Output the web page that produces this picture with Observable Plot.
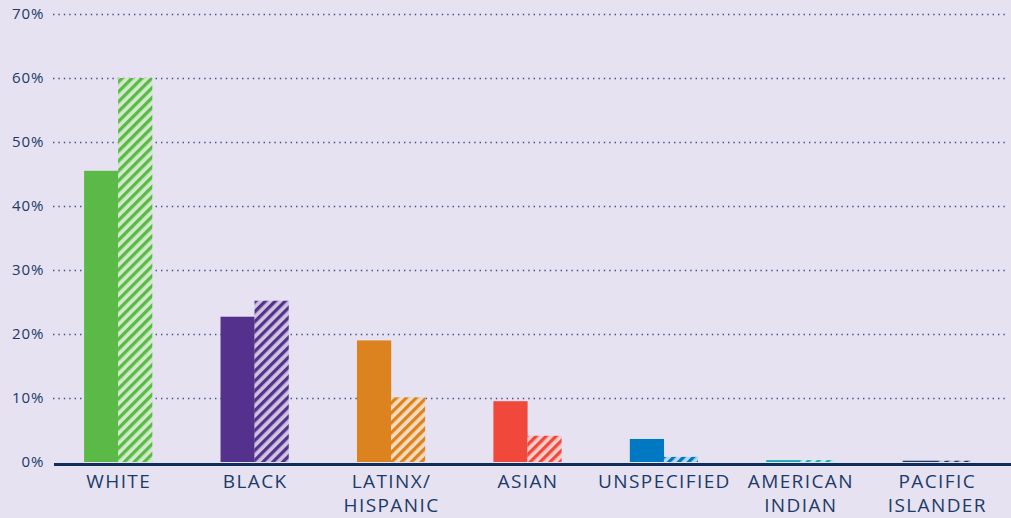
<!DOCTYPE html>
<html>
<head>
<meta charset="utf-8">
<script src="https://cdn.jsdelivr.net/npm/d3@7"></script>
<script src="https://cdn.jsdelivr.net/npm/@observablehq/plot@0.6"></script>
<style>
  html, body { margin: 0; padding: 0; background: #e6e2f1; }
  #chart svg { display: block; background: #e6e2f1; }
  #chart g[aria-label="y-axis tick label"] text { font-size: 15px; letter-spacing: 1px; }
  #chart g[aria-label="x-axis tick label"] text { font-size: 19px; letter-spacing: 1.4px; }
</style>
</head>
<body>
<div id="chart"></div>
<script>
// ---- data ----
const categories = ["WHITE", "BLACK", "LATINX/ HISPANIC", "ASIAN", "UNSPECIFIED", "AMERICAN INDIAN", "PACIFIC ISLANDER"];
const tickLabels = ["WHITE", "BLACK", "LATINX/\nHISPANIC", "ASIAN", "UNSPECIFIED", "AMERICAN\nINDIAN", "PACIFIC\nISLANDER"];
const solidValues = [45.5, 22.7, 19.0, 9.5, 3.6, 0.3, 0.2];
const hatchedValues = [60.0, 25.2, 10.1, 4.1, 0.8, 0.3, 0.2];
const yTicks = [0, 10, 20, 30, 40, 50, 60, 70];

// ---- styles ----
const palette = ["#5bb947", "#55318e", "#dc821e", "#f1483c", "#0079c2", "#1aadb3", "#1e3a66"];
const navy = "#1d3a68";

const rows = categories.map((c, i) => ({
  cat: c,
  solid: solidValues[i],
  hatched: hatchedValues[i],
  color: palette[i],
  pat: `url(#hatch${i})`
}));
const labelOf = new Map(categories.map((c, i) => [c, tickLabels[i]]));

const chart = Plot.plot({
  width: 1011,
  height: 518,
  marginTop: 14,
  marginBottom: 56,
  marginLeft: 50,
  marginRight: 6,
  style: { background: "#e6e2f1", fontFamily: "'Open Sans', sans-serif", color: navy },
  x: { domain: categories, paddingInner: 0.5, paddingOuter: 0.25, round: false, label: null },
  y: { domain: [0, 70], label: null },
  color: { type: "identity" },
  marks: [
    Plot.ruleY(yTicks.slice(1), { stroke: navy, strokeWidth: 1.5, strokeDasharray: "1.4,4", insetLeft: 3, strokeOpacity: 0.85 }),
    Plot.barY(rows, { x: "cat", y: "solid", fill: "color", insetRight: 34 }),
    Plot.barY(rows, { x: "cat", y: "hatched", fill: "pat", insetLeft: 34 }),
    Plot.ruleY([0], { stroke: "#0e2d5b", strokeWidth: 3, dy: 2, insetLeft: 4, insetRight: -6 }),
    Plot.axisY({ ticks: yTicks, tickFormat: d => d + "%", tickSize: 0, tickPadding: 6, fill: navy }),
    Plot.axisX({ tickFormat: d => labelOf.get(d), tickSize: 0, tickPadding: 8, lineHeight: 1.27, fill: navy })
  ]
});

// hatch patterns
const svg = d3.select(chart);
const defs = svg.insert("defs", ":first-child");
palette.forEach((c, i) => {
  const light = d3.interpolateRgb(c, "#ffffff")(0.72);
  const p = defs.append("pattern")
    .attr("id", "hatch" + i)
    .attr("patternUnits", "userSpaceOnUse")
    .attr("width", 7)
    .attr("height", 7)
    .attr("patternTransform", "rotate(45)");
  p.append("rect").attr("width", 7).attr("height", 7).attr("fill", light);
  p.append("rect").attr("x", 0).attr("width", 3.3).attr("height", 7).attr("fill", c);
});

document.getElementById("chart").appendChild(chart);
</script>
</body>
</html>
